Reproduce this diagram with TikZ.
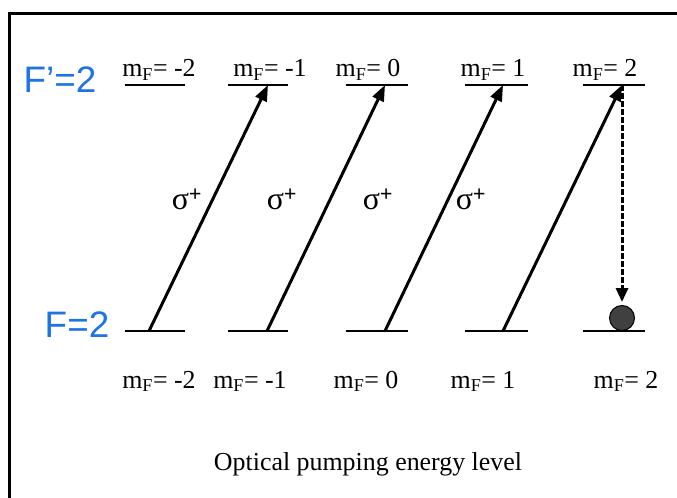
\documentclass[tikz,border=0pt]{standalone}
\usepackage{fontspec}
\setmainfont{Liberation Serif}
\newfontfamily\flabelfont{Liberation Sans}
\usetikzlibrary{arrows.meta}
\definecolor{fblue}{RGB}{30,115,230}

\begin{document}
\begin{tikzpicture}[x=1bp,y=-1bp,
    level/.style={line width=2bp},
    pump/.style={line width=3bp,-{Triangle[length=16bp,width=12bp]}},
    decay/.style={line width=3bp,dash pattern=on 6bp off 2bp,-{Triangle[length=14bp,width=12bp]}},
    mlabel/.style={anchor=base,font=\fontsize{26}{28}\selectfont},
    slabel/.style={anchor=base,font=\fontsize{32}{34}\selectfont},
    flabel/.style={anchor=base,text=fblue,font=\flabelfont\fontsize{37}{40}\selectfont},
    atom/.style={circle,draw,line width=1bp,fill=black!75,minimum size=25bp,inner sep=0pt}]
    \useasboundingbox[fill=white] (0,0) rectangle (677,498);

    % Frame
    \draw[line width=3bp] (9,498) -- (9,13.5) -- (677,13.5);

    % Level names
    \node[flabel] (Fup) at (60,93) {F’=2};
    \node[flabel] (Flo) at (77,337) {F=2};

    % Upper levels F'=2
    \draw[level] (125,85) -- (185,85);
    \draw[level] (228,85) -- (288,85);
    \draw[level] (346,85) -- (408,85);
    \draw[level] (465,85) -- (528,85);
    \draw[level] (583,85) -- (645,85);

    % Lower levels F=2
    \draw[level] (125,331) -- (185,331);
    \draw[level] (228,331) -- (288,331);
    \draw[level] (346,331) -- (408,331);
    \draw[level] (465,331) -- (528,331);
    \draw[level] (583,331) -- (645,331);

    % Upper sublevel labels
    \node[mlabel] (mu1) at (159,77) {m\textsubscript{F}= -2};
    \node[mlabel] (mu2) at (270,77) {m\textsubscript{F}= -1};
    \node[mlabel] (mu3) at (368,77) {m\textsubscript{F}= 0};
    \node[mlabel] (mu4) at (493,77) {m\textsubscript{F}= 1};
    \node[mlabel] (mu5) at (605,77) {m\textsubscript{F}= 2};

    % Lower sublevel labels
    \node[mlabel] (ml1) at (159,388) {m\textsubscript{F}= -2};
    \node[mlabel] (ml2) at (250,388) {m\textsubscript{F}= -1};
    \node[mlabel] (ml3) at (366,388) {m\textsubscript{F}= 0};
    \node[mlabel] (ml4) at (483,388) {m\textsubscript{F}= 1};
    \node[mlabel] (ml5) at (626,388) {m\textsubscript{F}= 2};

    % Pumping transitions
    \coordinate (lo1) at (149,331);
    \coordinate (lo2) at (267,331);
    \coordinate (lo3) at (385,331);
    \coordinate (lo4) at (503,331);
    \coordinate (up2) at (268,85);
    \coordinate (up3) at (385,85);
    \coordinate (up4) at (503,85);
    \coordinate (up5) at (622,85);
    \draw[pump] (lo1) -- (up2);
    \draw[pump] (lo2) -- (up3);
    \draw[pump] (lo3) -- (up4);
    \draw[pump] (lo4) -- (up5);
    \node[slabel] (s1) at (187,210) {σ\textsuperscript{\textbf{+}}};
    \node[slabel] (s2) at (282,210) {σ\textsuperscript{\textbf{+}}};
    \node[slabel] (s3) at (378,210) {σ\textsuperscript{\textbf{+}}};
    \node[slabel] (s4) at (471,210) {σ\textsuperscript{\textbf{+}}};

    % Decay into the dark state
    \node[atom] (atom) at (622,318) {};
    \draw[decay, shorten >=3bp] (up5) -- (atom.north);

    % Caption
    \node[mlabel] (caption) at (368,470) {Optical pumping energy level};
\end{tikzpicture}
\end{document}
